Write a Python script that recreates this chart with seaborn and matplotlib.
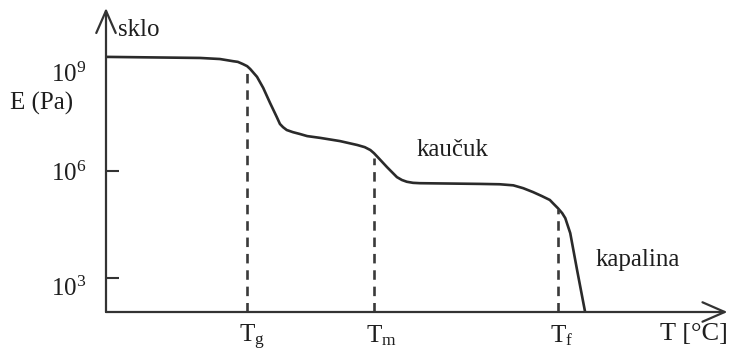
import numpy as np
import pandas as pd
import matplotlib
matplotlib.use("Agg")
import matplotlib.pyplot as plt
from matplotlib.transforms import ScaledTranslation, blended_transform_factory
import seaborn as sns

# Schematic modulus-temperature curve of a polymer (temperature in arbitrary units)
temperature = [0.0, 15.2, 18.4, 20.5, 21.3, 22.1, 22.8, 23.3, 24.4, 25.4, 26.5,
               27.6, 28.1, 28.6, 29.2, 30.2, 31.3, 32.5, 34.6, 37.8, 40.6, 41.8,
               42.7, 43.3, 43.9, 45.4, 47.0, 47.8, 48.6, 49.6, 50.7, 55.6, 60.4,
               63.6, 65.8, 67.4, 69.0, 70.4, 71.7, 72.2, 73.0, 73.7, 74.2, 75.0,
               76.1, 77.4]
log_modulus = [9.20, 9.17, 9.14, 9.08, 9.06, 9.00, 8.94, 8.86, 8.64, 8.33, 7.91,
               7.51, 7.32, 7.23, 7.15, 7.09, 7.04, 6.98, 6.93, 6.84, 6.73, 6.67,
               6.59, 6.50, 6.39, 6.11, 5.83, 5.75, 5.70, 5.67, 5.66, 5.65, 5.64,
               5.63, 5.60, 5.52, 5.41, 5.30, 5.19, 5.10, 4.96, 4.82, 4.68, 4.26,
               3.23, 2.05]

# Transition temperatures and where their guide lines end
transition_names = ["$\\mathregular{T_g}$", "$\\mathregular{T_m}$", "$\\mathregular{T_f}$"]
transition_temps = [22.8, 43.3, 73.0]
transition_tops = [8.89, 6.36, 4.93]

ytick_exponents = [3, 6, 9]
ytick_labels = ["$\\mathregular{10^3}$", "$\\mathregular{10^6}$", "$\\mathregular{10^9}$"]

region_labels = ["sklo", "kaučuk", "kapalina"]

sns.set_theme(style="white")
plt.rcParams["font.family"] = ["Liberation Serif", "DejaVu Serif"]
plt.rcParams["mathtext.fontset"] = "custom"
plt.rcParams["mathtext.rm"] = "Liberation Serif"
plt.rcParams["mathtext.it"] = "Liberation Serif:italic"

INK = "#1e1e1e"
FS = 18

df = pd.DataFrame({"T": temperature, "E": np.power(10.0, log_modulus)})

fig = plt.figure(figsize=(7.38, 3.52), dpi=100)
ax = fig.add_axes([106 / 738, 40 / 352, 619 / 738, 304 / 352])
ax.set_yscale("log")
ax.set_xlim(0, 100)
ax.set_ylim(10 ** 2.05, 10 ** 10.57)

sns.lineplot(data=df, x="T", y="E", sort=False, color="#2a2a2a", lw=1.9, ax=ax)
ax.lines[-1].set_solid_joinstyle("round")

ax.vlines(transition_temps, 10 ** 2.05, np.power(10.0, transition_tops),
          colors="#3a3a3a", linestyles=(0, (3.6, 2.6)), lw=1.9)

for s in ax.spines.values():
    s.set_visible(False)

# axes drawn as arrows
arrow_kw = dict(arrowstyle="->,head_length=0.8,head_width=0.35", lw=1.6,
                color="#333333", shrinkA=0, shrinkB=0, mutation_scale=20)
ax.annotate("", xy=(0, 1), xytext=(0, 0), xycoords="axes fraction",
            textcoords="axes fraction", arrowprops=arrow_kw)
ax.annotate("", xy=(1.004, 0), xytext=(0, 0), xycoords="axes fraction",
            textcoords="axes fraction", arrowprops=arrow_kw)

# y ticks
ax.set_yticks(np.power(10.0, ytick_exponents))
ax.set_yticklabels(ytick_labels)
ax.yaxis.set_minor_locator(matplotlib.ticker.NullLocator())
ax.tick_params(axis="y", direction="in", length=9.5, width=1.5, color="#333333",
               labelsize=FS, labelcolor=INK, pad=14, left=True)
ticks = ax.yaxis.get_major_ticks()
ticks[2].tick1line.set_visible(False)
for lab, dy in zip(ax.get_yticklabels(), [-8, 0, -8]):
    lab.set_transform(lab.get_transform() + ScaledTranslation(0, dy / 100, fig.dpi_scale_trans))

ax.set_xticks([])
ax.set_xlabel("")
ax.set_ylabel("")

trans = blended_transform_factory(ax.transData, ax.transAxes)
for name, t in zip(transition_names, transition_temps):
    ax.annotate(name, xy=(t, 0), xycoords=trans, xytext=(-5.5, -8),
                textcoords="offset points", ha="left", va="top",
                fontsize=FS, color=INK)

fig.text(660 / 738, 1 - 334 / 352, "T [°C]", ha="left", va="center",
         fontsize=FS + 1, color=INK)
fig.text(118 / 738, 1 - 30 / 352, region_labels[0], ha="left", va="center",
         fontsize=FS, color=INK)
fig.text(42 / 738, 1 - 103 / 352, "E (Pa)", ha="center", va="center",
         fontsize=FS, color=INK)
fig.text(453 / 738, 1 - 150 / 352, region_labels[1], ha="center", va="center",
         fontsize=FS, color=INK)
fig.text(638 / 738, 1 - 260 / 352, region_labels[2], ha="center", va="center",
         fontsize=FS, color=INK)

fig.savefig("out.png", dpi=100, facecolor="white")
